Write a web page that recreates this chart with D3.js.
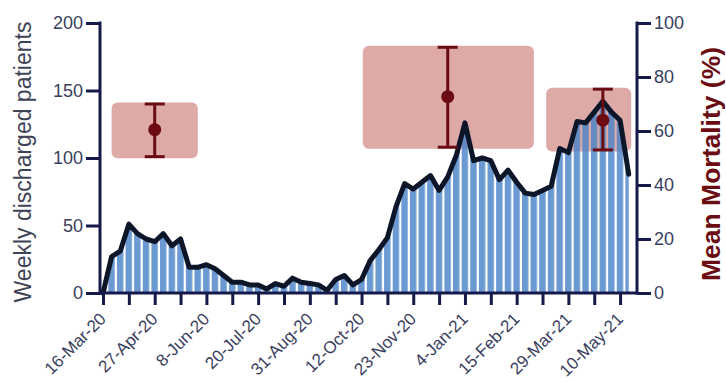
<!DOCTYPE html>
<html>
<head>
<meta charset="utf-8">
<script src="https://cdn.jsdelivr.net/npm/d3@7"></script>
<style>
  html, body { margin: 0; padding: 0; background: #fff; }
  svg { display: block; font-family: "Liberation Sans", Arial, sans-serif; }
</style>
</head>
<body>
<svg id="chart" width="726" height="382"></svg>
<script>
// Weekly discharged patients, one value per week starting 16-Mar-20
const firstWeek = "2020-03-16";
const discharges = [
  0, 27, 31, 51, 44, 40, 38, 44, 35, 40,
  19, 19, 21, 18, 13, 8, 8, 6, 6, 3,
  7, 5, 11, 8, 7, 6, 2, 10, 13, 6,
  10, 24, 32, 41, 64, 81, 77, 82, 87, 76,
  86, 102, 126, 98, 100, 98, 84, 91, 82, 74,
  73, 76, 79, 107, 104, 127, 126, 134, 142, 134,
  128, 88
];

// Mean mortality per wave (%), with its interval and the period it covers
const waveStart = ["2020-03-23", "2020-10-13", "2021-03-11"];
const waveEnd   = ["2020-06-01", "2021-03-01", "2021-05-19"];
const waveMark  = ["2020-04-27", "2020-12-21", "2021-04-26"];
const waveMean  = [60.5, 72.7, 64];
const waveLow   = [50.5, 54, 53];
const waveHigh  = [70, 91, 75.5];

// Axis ticks
const tickLabels = ["16-Mar-20", "27-Apr-20", "8-Jun-20", "20-Jul-20", "31-Aug-20",
  "12-Oct-20", "23-Nov-20", "4-Jan-21", "15-Feb-21", "29-Mar-21", "10-May-21"];
const leftTicks = [0, 50, 100, 150, 200];
const rightTicks = [0, 20, 40, 60, 80, 100];

(function draw() {
  const parse = d3.utcParse("%Y-%m-%d");
  const start = parse(firstWeek);
  const weekDate = i => d3.utcDay.offset(start, 7 * i);
  const series = discharges.map((v, i) => ({ date: weekDate(i), value: v }));
  const waves = waveMean.map((m, i) => ({
    from: parse(waveStart[i]), to: parse(waveEnd[i]), at: parse(waveMark[i]),
    mean: m, lo: waveLow[i], hi: waveHigh[i]
  }));

  const svg = d3.select("#chart");
  const plotLeft = 100, plotRight = 637, plotTop = 23, plotBottom = 293;

  const x = d3.scaleUtc()
    .domain([start, weekDate(discharges.length - 1)])
    .range([103, 628.7]);
  const y = d3.scaleLinear().domain([0, 200]).range([plotBottom, plotTop]);
  const y2 = d3.scaleLinear().domain([0, 100]).range([plotBottom, plotTop]);

  const navy = "#161a4a";
  const textCol = "#3a3e5e";
  const darkRed = "#6a0c12";

  // Striped fill: one blue strip per week with a thin white gap
  const step = x(weekDate(1)) - x(weekDate(0));
  const defs = svg.append("defs");
  const pat = defs.append("pattern")
    .attr("id", "weekStripes")
    .attr("patternUnits", "userSpaceOnUse")
    .attr("width", step).attr("height", 20)
    .attr("patternTransform", `translate(${x(start) - step / 2 + 1},0)`);
  pat.append("rect").attr("width", step - 2.2).attr("height", 20)
    .attr("fill", "#4a83c8").attr("fill-opacity", 0.82);

  // Mortality boxes sit behind the discharge curve
  svg.append("g").selectAll("rect").data(waves).join("rect")
    .attr("x", d => x(d.from))
    .attr("width", d => x(d.to) - x(d.from))
    .attr("y", d => y2(d.hi) - 1.5)
    .attr("height", d => y2(d.lo) - y2(d.hi) + 3)
    .attr("rx", 6).attr("ry", 6)
    .attr("fill", "#b3423f").attr("fill-opacity", 0.45);

  // Discharges area and outline
  const area = d3.area()
    .x(d => x(d.date)).y0(y(0)).y1(d => y(d.value));
  svg.append("path").datum(series)
    .attr("d", area).attr("fill", "url(#weekStripes)");

  const line = d3.line().x(d => x(d.date)).y(d => y(d.value));
  svg.append("path").datum(series)
    .attr("d", line)
    .attr("fill", "none")
    .attr("stroke", "#0c1628")
    .attr("stroke-width", 5)
    .attr("stroke-linejoin", "round")
    .attr("stroke-linecap", "round");

  // Axes
  function styleAxis(g) {
    g.select(".domain").remove();
    g.selectAll(".tick line").attr("stroke", navy).attr("stroke-width", 3);
    g.selectAll(".tick text").attr("fill", textCol).attr("font-size", 18);
  }

  svg.append("g")
    .attr("transform", `translate(${plotLeft},0)`)
    .call(d3.axisLeft(y).tickValues(leftTicks).tickSize(14).tickPadding(3))
    .call(styleAxis);

  svg.append("g")
    .attr("transform", `translate(${plotRight},0)`)
    .call(d3.axisRight(y2).tickValues(rightTicks).tickSize(14).tickPadding(3))
    .call(styleAxis);

  const tickDates = d3.range(0, discharges.length, 3).map(weekDate);
  svg.append("g")
    .attr("transform", `translate(0,${plotBottom})`)
    .call(d3.axisBottom(x).tickValues(tickDates).tickSize(12).tickFormat(() => ""))
    .call(styleAxis);

  const labelDates = tickLabels.map((t, i) => ({ t, d: weekDate(6 * i) }));
  svg.append("g").selectAll("text").data(labelDates).join("text")
    .attr("transform", d => `translate(${x(d.d) + 4},${plotBottom + 27}) rotate(-45)`)
    .attr("text-anchor", "end")
    .attr("fill", textCol)
    .attr("font-size", 17)
    .text(d => d.t);

  // Axis lines
  svg.append("line")
    .attr("x1", plotLeft).attr("x2", plotLeft).attr("y1", plotTop - 1.5).attr("y2", plotBottom + 1.5)
    .attr("stroke", navy).attr("stroke-width", 3);
  svg.append("line")
    .attr("x1", plotRight).attr("x2", plotRight).attr("y1", plotTop - 1.5).attr("y2", plotBottom + 1.5)
    .attr("stroke", navy).attr("stroke-width", 3);
  svg.append("line")
    .attr("x1", plotLeft).attr("x2", plotRight).attr("y1", plotBottom).attr("y2", plotBottom)
    .attr("stroke", navy).attr("stroke-width", 3);

  // Mean mortality with interval
  const eb = svg.append("g").selectAll("g").data(waves).join("g")
    .attr("stroke", darkRed).attr("stroke-width", 3);
  eb.append("line")
    .attr("x1", d => x(d.at)).attr("x2", d => x(d.at))
    .attr("y1", d => y2(d.hi)).attr("y2", d => y2(d.lo));
  eb.append("line")
    .attr("x1", d => x(d.at) - 10).attr("x2", d => x(d.at) + 10)
    .attr("y1", d => y2(d.hi)).attr("y2", d => y2(d.hi));
  eb.append("line")
    .attr("x1", d => x(d.at) - 10).attr("x2", d => x(d.at) + 10)
    .attr("y1", d => y2(d.lo)).attr("y2", d => y2(d.lo));
  eb.append("circle")
    .attr("cx", d => x(d.at)).attr("cy", d => y2(d.mean))
    .attr("r", 6.5).attr("fill", darkRed).attr("stroke", "none");

  // Axis titles
  svg.append("text")
    .attr("transform", `translate(31,${(plotTop + plotBottom) / 2 + 4}) rotate(-90)`)
    .attr("text-anchor", "middle")
    .attr("fill", "#3f4356")
    .attr("font-size", 23)
    .text("Weekly discharged patients");

  svg.append("text")
    .attr("transform", `translate(720,164) rotate(-90)`)
    .attr("text-anchor", "middle")
    .attr("fill", darkRed)
    .attr("font-size", 26.5)
    .attr("font-weight", "bold")
    .text("Mean Mortality (%)");
})();
</script>
</body>
</html>
